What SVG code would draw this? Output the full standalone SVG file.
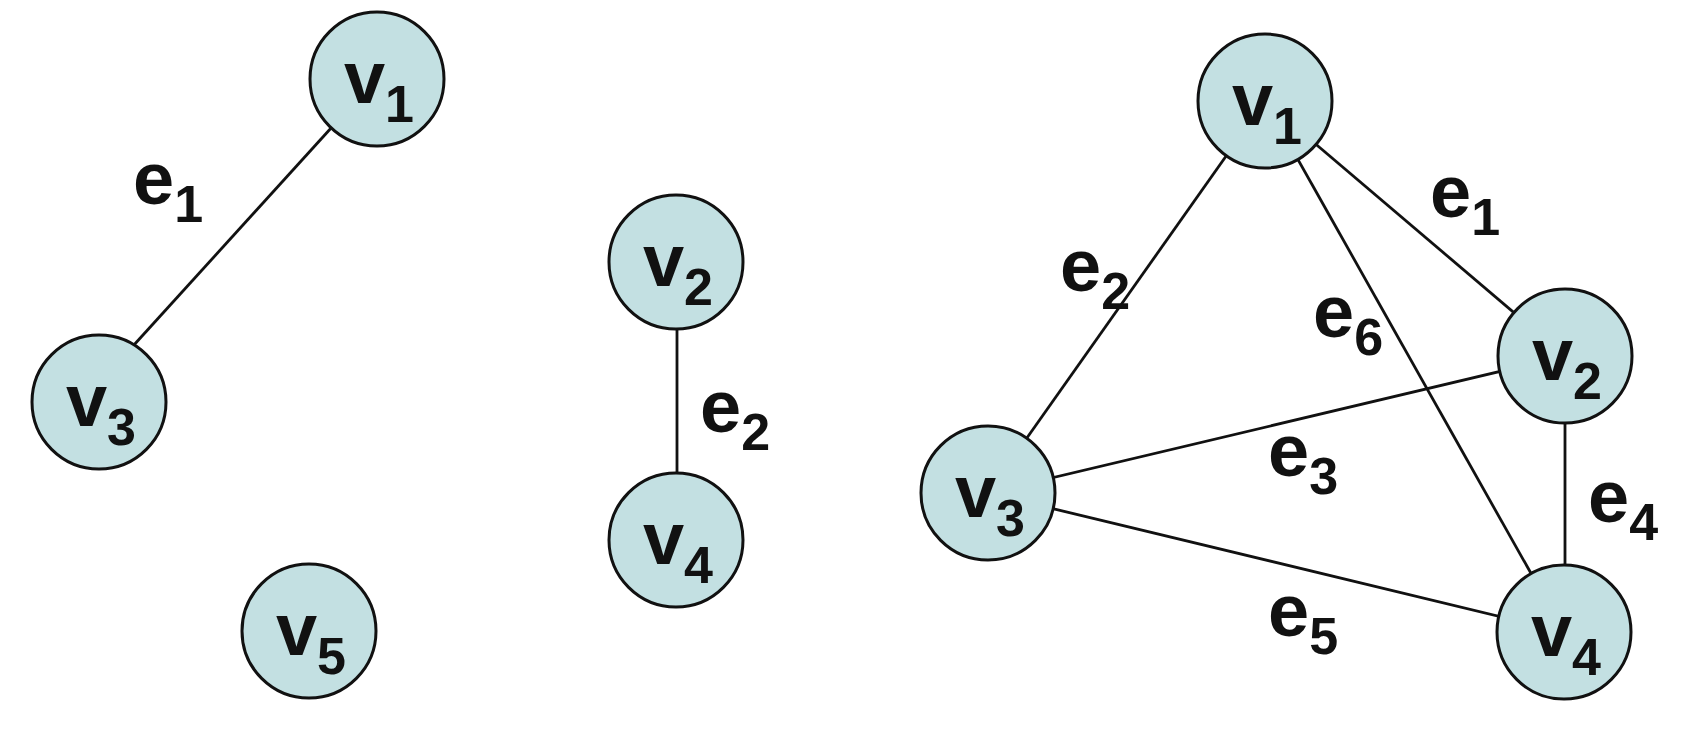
<svg xmlns="http://www.w3.org/2000/svg" width="1702" height="738" viewBox="0 0 1702 738">
<style>
.edge{stroke:#111;stroke-width:2.8;fill:none}
.node circle{fill:#c3e0e2;stroke:#111;stroke-width:3}
text{font-family:"Liberation Sans",Arial,sans-serif;font-weight:bold;font-size:74px;fill:#111}
.node text{text-anchor:middle}
.sub{font-size:52px}
</style>
<rect width="1702" height="738" fill="#ffffff"/>
<g id="connectors">
<line class="edge" x1="332" y1="127" x2="133" y2="346"/>
<line class="edge" x1="677" y1="262" x2="677" y2="540"/>
<line class="edge" x1="1265" y1="101" x2="1565" y2="356"/>
<line class="edge" x1="1265" y1="101" x2="988" y2="493"/>
<line class="edge" x1="1265" y1="101" x2="1564" y2="632"/>
<line class="edge" x1="988" y1="493" x2="1565" y2="356"/>
<line class="edge" x1="1565" y1="356" x2="1565" y2="632"/>
<line class="edge" x1="988" y1="493" x2="1564" y2="632"/>
</g>
<g id="edge-labels">
<text x="133" y="204">e<tspan class="sub" dy="18">1</tspan></text>
<text x="700" y="432">e<tspan class="sub" dy="18">2</tspan></text>
<text x="1430" y="217">e<tspan class="sub" dy="18">1</tspan></text>
<text x="1060" y="291">e<tspan class="sub" dy="18">2</tspan></text>
<text x="1313" y="337">e<tspan class="sub" dy="18">6</tspan></text>
<text x="1268" y="476">e<tspan class="sub" dy="18">3</tspan></text>
<text x="1588" y="522">e<tspan class="sub" dy="18">4</tspan></text>
<text x="1268" y="636">e<tspan class="sub" dy="18">5</tspan></text>
</g>
<g id="L-v1" class="node"><circle cx="377" cy="79" r="67"/><text x="379" y="103">v<tspan class="sub" dy="19">1</tspan></text></g>
<g id="L-v3" class="node"><circle cx="99" cy="402" r="67"/><text x="101" y="426">v<tspan class="sub" dy="19">3</tspan></text></g>
<g id="L-v5" class="node"><circle cx="309" cy="631" r="67"/><text x="311" y="655">v<tspan class="sub" dy="19">5</tspan></text></g>
<g id="L-v2" class="node"><circle cx="676" cy="262" r="67"/><text x="678" y="286">v<tspan class="sub" dy="19">2</tspan></text></g>
<g id="L-v4" class="node"><circle cx="676" cy="540" r="67"/><text x="678" y="564">v<tspan class="sub" dy="19">4</tspan></text></g>
<g id="R-v1" class="node"><circle cx="1265" cy="101" r="67"/><text x="1267" y="125">v<tspan class="sub" dy="19">1</tspan></text></g>
<g id="R-v2" class="node"><circle cx="1565" cy="356" r="67"/><text x="1567" y="380">v<tspan class="sub" dy="19">2</tspan></text></g>
<g id="R-v3" class="node"><circle cx="988" cy="493" r="67"/><text x="990" y="517">v<tspan class="sub" dy="19">3</tspan></text></g>
<g id="R-v4" class="node"><circle cx="1564" cy="632" r="67"/><text x="1566" y="656">v<tspan class="sub" dy="19">4</tspan></text></g>
</svg>
